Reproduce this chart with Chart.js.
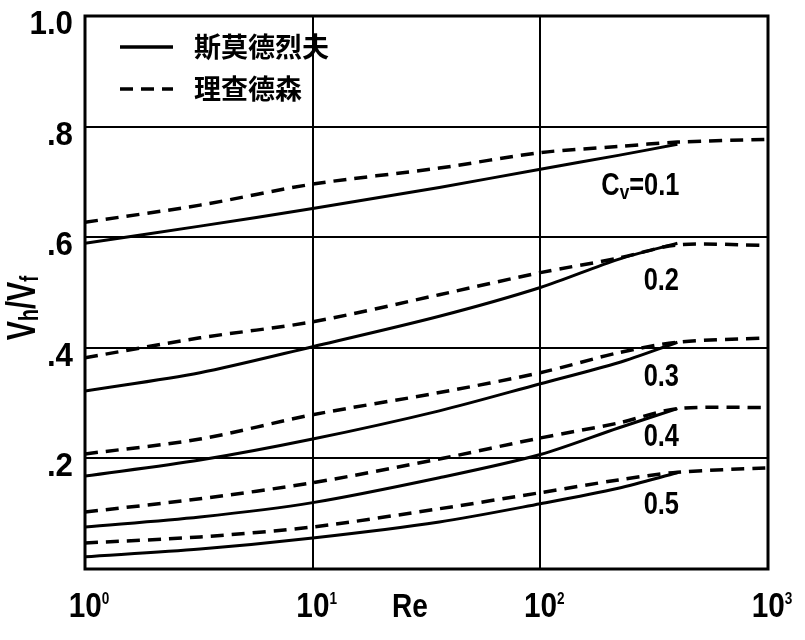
<!DOCTYPE html>
<html>
<head>
<meta charset="utf-8">
<script src="https://cdn.jsdelivr.net/npm/chart.js@4.4.1/dist/chart.umd.min.js"></script>
<style>
html, body { margin: 0; padding: 0; background: #fff; }
</style>
</head>
<body>
<canvas id="grafico" width="805" height="640"></canvas>
<script>
// datos (Re en escala log)
const reSolid = [1, 3.2, 10, 36, 100, 220, 400];
const reDash = [1, 3.2, 10, 36, 100, 220, 400, 1000];

const solid01 = [0.589, 0.620, 0.652, 0.690, 0.723, 0.748, 0.768];
const solid02 = [0.322, 0.355, 0.402, 0.457, 0.509, 0.560, 0.589];
const solid03 = [0.168, 0.197, 0.235, 0.286, 0.335, 0.373, 0.410];
const solid04 = [0.076, 0.094, 0.120, 0.165, 0.207, 0.255, 0.290];
const solid05 = [0.022, 0.036, 0.056, 0.085, 0.118, 0.146, 0.174];

const dash01 = [0.627, 0.658, 0.696, 0.725, 0.753, 0.764, 0.772, 0.777];
const dash02 = [0.382, 0.418, 0.447, 0.496, 0.536, 0.562, 0.586, 0.585];
const dash03 = [0.208, 0.235, 0.279, 0.319, 0.355, 0.391, 0.410, 0.418];
const dash04 = [0.103, 0.127, 0.156, 0.199, 0.237, 0.264, 0.290, 0.292];
const dash05 = [0.047, 0.058, 0.076, 0.109, 0.138, 0.161, 0.175, 0.183];

const xTicks = [1, 10, 100, 1000];
const yTicks = [0, 0.2, 0.4, 0.6, 0.8, 1.0];
const yTickText = ['', '.2', '.4', '.6', '.8', '1.0'];

// etiquetas de las curvas
const cvNames = ['0.1', '0.2', '0.3', '0.4', '0.5'];
const cvLabelRe = [275, 340, 340, 340, 340];
const cvLabelY = [0.696, 0.524, 0.351, 0.243, 0.120];

const legendItems = [
    { text: '斯莫德烈夫', dash: [] },
    { text: '理查德森', dash: [13, 8] }
];

const fam = '"Liberation Sans", Arial, sans-serif';
const sup = ['0', '1', '2', '3'];
const dashPat = [13, 8];

function pts(xs, ys) {
    return ys.map((v, i) => ({ x: xs[i], y: v }));
}

function serie(xs, ys, dash) {
    return {
        data: pts(xs, ys),
        borderColor: '#000',
        borderWidth: dash.length ? 3.5 : 3,
        borderDash: dash,
        pointRadius: 0,
        fill: false,
        tension: 0.3
    };
}

// texto por partes, comprimido en horizontal (sx)
function partsWidth(ctx, parts, sx) {
    let w = 0;
    parts.forEach(p => { ctx.font = p.font; w += ctx.measureText(p.t).width * sx; });
    return w;
}

function drawParts(ctx, parts, x, y, sx) {
    let cx = x;
    parts.forEach(p => {
        ctx.font = p.font;
        ctx.save();
        ctx.translate(cx, y + (p.dy || 0));
        ctx.scale(sx, 1);
        ctx.fillText(p.t, 0, 0);
        ctx.restore();
        cx += ctx.measureText(p.t).width * sx;
    });
}

const extras = {
    id: 'extras',
    afterDraw(chart) {
        const ctx = chart.ctx;
        const a = chart.chartArea;
        const xs = chart.scales.x, ys = chart.scales.y;
        ctx.save();
        ctx.fillStyle = '#000';
        ctx.strokeStyle = '#000';
        ctx.textAlign = 'left';
        ctx.textBaseline = 'alphabetic';

        // marco
        ctx.lineWidth = 3;
        ctx.strokeRect(a.left, a.top, a.right - a.left, a.bottom - a.top);

        // ticks eje y
        yTicks.forEach((v, i) => {
            const t = yTickText[i];
            if (!t) return;
            const parts = [{ t: t, font: 'bold 34px ' + fam }];
            const w = partsWidth(ctx, parts, 0.92);
            drawParts(ctx, parts, 73 - w, ys.getPixelForValue(v) + 18, 0.92);
        });

        // ticks eje x: 10^n
        xTicks.forEach((v, i) => {
            const parts = [
                { t: '10', font: 'bold 35px ' + fam },
                { t: sup[i], font: 'bold 16px ' + fam, dy: -13 }
            ];
            const w = partsWidth(ctx, parts, 0.85);
            drawParts(ctx, parts, xs.getPixelForValue(v) + 4 - w / 2, 617, 0.85);
        });

        // titulo eje x
        drawParts(ctx, [{ t: 'Re', font: 'bold 33px ' + fam }], 392, 617, 0.85);

        // leyenda
        legendItems.forEach((it, i) => {
            const ly = a.top + 31 + i * 42;
            ctx.setLineDash(it.dash);
            ctx.lineWidth = 3.5;
            ctx.beginPath();
            ctx.moveTo(a.left + 35, ly);
            ctx.lineTo(a.left + 88, ly);
            ctx.stroke();
            ctx.setLineDash([]);
            ctx.textBaseline = 'middle';
            ctx.font = 'bold 27px "Noto Sans CJK SC", sans-serif';
            ctx.fillText(it.text, a.left + 109, ly);
            ctx.textBaseline = 'alphabetic';
        });

        // etiquetas Cv
        const big = 'bold 31px ' + fam;
        const small = 'bold 21px ' + fam;
        cvNames.forEach((n, i) => {
            const parts = i === 0
                ? [{ t: 'C', font: big }, { t: 'v', font: small, dy: 4 }, { t: '=' + n, font: big }]
                : [{ t: n, font: big }];
            const w = partsWidth(ctx, parts, 0.82);
            const px = xs.getPixelForValue(cvLabelRe[i]);
            const py = ys.getPixelForValue(cvLabelY[i]);
            drawParts(ctx, parts, px - w / 2, py + 11, 0.82);
        });

        // titulo eje y: Vh/Vf (girado)
        const vParts = [
            { t: 'V', font: 'bold 40px ' + fam },
            { t: 'h', font: 'bold 27px ' + fam, dy: 3 },
            { t: '/', font: 'bold 40px ' + fam },
            { t: 'V', font: 'bold 40px ' + fam },
            { t: 'f', font: 'bold 25px ' + fam, dy: 3 }
        ];
        ctx.translate(35, 308);
        ctx.rotate(-Math.PI / 2);
        drawParts(ctx, vParts, -partsWidth(ctx, vParts, 0.72) / 2, 0, 0.72);
        ctx.restore();
    }
};

new Chart(document.getElementById('grafico'), {
    type: 'line',
    data: {
        datasets: [
            serie(reSolid, solid01, []),
            serie(reSolid, solid02, []),
            serie(reSolid, solid03, []),
            serie(reSolid, solid04, []),
            serie(reSolid, solid05, []),
            serie(reDash, dash01, dashPat),
            serie(reDash, dash02, dashPat),
            serie(reDash, dash03, dashPat),
            serie(reDash, dash04, dashPat),
            serie(reDash, dash05, dashPat)
        ]
    },
    options: {
        responsive: false,
        animation: false,
        layout: { padding: { top: 16, right: 37, left: 0, bottom: 0 } },
        plugins: {
            legend: { display: false },
            tooltip: { enabled: false }
        },
        scales: {
            x: {
                type: 'logarithmic',
                min: 1,
                max: 1000,
                afterBuildTicks: s => { s.ticks = xTicks.map(v => ({ value: v })); },
                afterFit: s => { s.height = 71; },
                border: { display: false },
                grid: { color: '#000', lineWidth: 2, drawTicks: false },
                ticks: { display: false }
            },
            y: {
                min: 0,
                max: 1,
                afterBuildTicks: s => { s.ticks = yTicks.map(v => ({ value: v })); },
                afterFit: s => { s.width = 85; },
                border: { display: false },
                grid: { color: '#000', lineWidth: 2, drawTicks: false },
                ticks: { display: false }
            }
        }
    },
    plugins: [extras]
});
</script>
</body>
</html>
